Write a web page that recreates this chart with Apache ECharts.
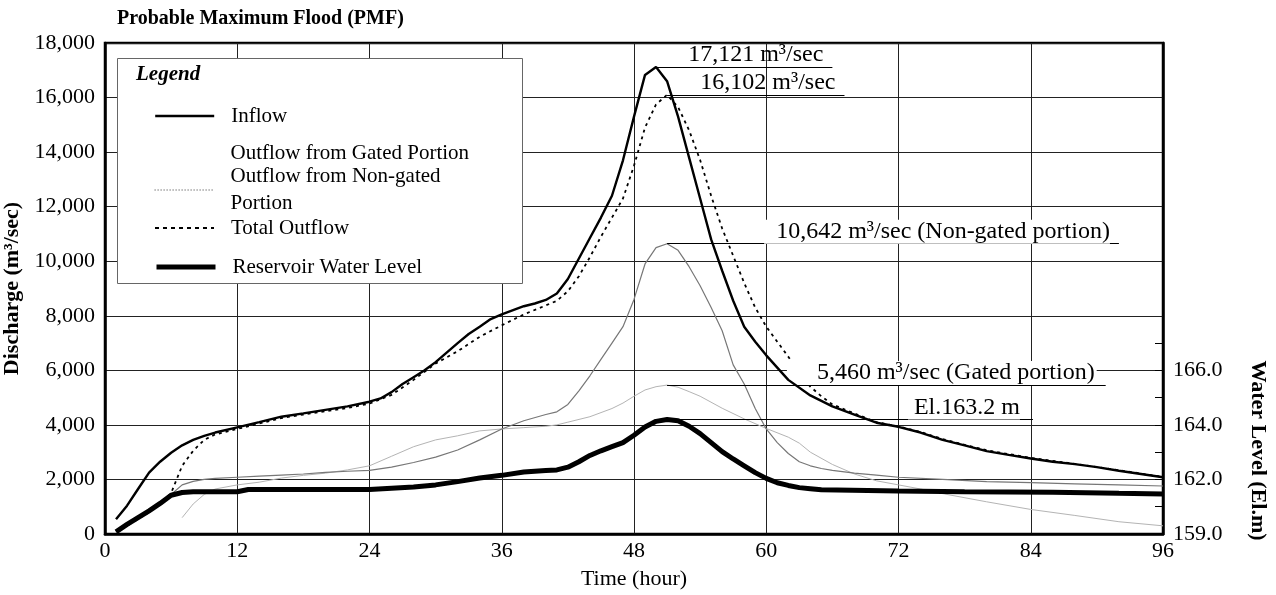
<!DOCTYPE html>
<html><head><meta charset="utf-8">
<script src="https://cdn.jsdelivr.net/npm/echarts@6/dist/echarts.min.js"></script>
<style>html,body{margin:0;padding:0;background:#fff}#c{width:1276px;height:595px}</style>
</head><body><div id="c"></div>
<script>
// ---- data (time in hours, discharge in m3/sec, level in El.m) ----
const inflowHours  = [1,2,3,4,5,6,7,8,9,10,12,14,16,18,20,22,24,25,26,27,28,29,30,31,32,33,34,35,36,38,39,40,41,42,43,44,45,46,47,48,49,50,51,52,53,54,55,56,57,58,59,60,62,64,66,68,70,72,74,76,78,80,82,84,86,88,90,92,94,96];
const inflowValues = [540,1040,1650,2250,2650,2980,3250,3450,3600,3720,3910,4100,4300,4420,4550,4680,4850,4970,5200,5500,5750,6000,6300,6650,7000,7330,7600,7880,8050,8350,8450,8580,8820,9350,10100,10850,11600,12400,13700,15300,16830,17121,16600,15300,13800,12300,10800,9650,8550,7600,7050,6550,5650,5080,4680,4380,4080,3930,3720,3450,3250,3040,2900,2770,2650,2560,2450,2320,2200,2080];

const totalHours  = [1,2,3,4,5,6,7,8,9,10,12,14,16,18,20,22,24,26,28,30,32,34,36,38,40,41,42,43,44,45,46,47,48,49,50,51,52,53,54,55,56,57,58,59,60,61,62,63,64,65,66,68,70,72,74,76,78,80,84,88,92,96];
const totalValues = [100,300,550,800,1100,1500,2500,3050,3450,3650,3850,4050,4250,4380,4500,4620,4780,5100,5650,6250,6700,7230,7650,8050,8380,8550,8900,9450,10150,10900,11600,12300,13500,14900,15750,16102,15650,14800,13710,12400,11200,10200,9200,8300,7600,7050,6500,5900,5400,5050,4750,4420,4100,3940,3740,3480,3270,3070,2790,2570,2340,2090];

const nonGatedHours  = [1,2,3,4,5,6,7,8,9,10,12,14,16,18,20,22,24,26,28,30,32,34,36,38,40,41,42,43,44,45,46,47,48,49,50,51,52,53,54,55,56,57,58,59,60,61,62,63,64,65,66,68,70,72,76,80,84,88,92,96];
const nonGatedValues = [85,350,630,880,1130,1450,1800,1930,2000,2040,2080,2120,2160,2200,2260,2300,2330,2450,2620,2820,3080,3450,3850,4150,4380,4480,4750,5250,5800,6400,7000,7600,8600,9900,10500,10642,10400,9800,9100,8300,7450,6200,5500,4600,3850,3350,2950,2650,2500,2400,2330,2230,2160,2080,2000,1920,1880,1840,1800,1760];

const gatedHours  = [7,8,9,10,12,14,16,18,20,22,24,26,28,30,32,34,36,38,40,41,42,44,46,47,48,49,50,51,52,53,54,56,58,60,62,63,64,66,68,70,72,74,76,80,84,88,92,96];
const gatedValues = [600,1100,1450,1650,1800,1900,2050,2150,2230,2350,2500,2850,3200,3450,3600,3780,3850,3900,3950,4000,4100,4300,4600,4800,5050,5280,5400,5460,5380,5220,5050,4610,4220,3870,3550,3330,3000,2550,2200,1950,1800,1650,1480,1180,900,680,450,300];

const levelHours  = [1,2,3,4,5,6,7,8,12,13,24,26,28,30,32,34,36,38,40,41,42,43,44,45,46,47,48,49,50,51,52,53,54,55,56,57,58,59,60,61,62,63,64,65,72,78,86,92,96];
const levelValues = [159.08,159.35,159.6,159.85,160.12,160.42,160.52,160.55,160.55,160.63,160.63,160.68,160.72,160.8,160.92,161.05,161.15,161.27,161.33,161.35,161.45,161.65,161.88,162.05,162.2,162.35,162.62,162.92,163.13,163.2,163.15,162.95,162.68,162.35,162.02,161.75,161.5,161.25,161.04,160.88,160.78,160.7,160.66,160.62,160.58,160.55,160.53,160.49,160.47];

const seriesNames = ['Inflow','Outflow from Gated Portion','Outflow from Non-gated Portion','Total Outflow','Reservoir Water Level'];
const legendTexts = ['Inflow','Outflow from Gated Portion','Outflow from Non-gated\nPortion','Total Outflow','Reservoir Water Level'];

const xTicks = [0,12,24,36,48,60,72,84,96];
const rightTickValues  = [159,160,161,162,163,164,165,166];
const rightLabelValues = [159,161,163,165];
const rightTickLabels  = ['159.0','162.0','164.0','166.0'];

const annotationTexts = ['17,121 m³/sec','16,102 m³/sec','10,642 m³/sec (Non-gated portion)','5,460 m³/sec (Gated portion)','El.163.2 m'];
const annotationStartHours = [50, 51, 51, 51, 51];
const annotationEndHours   = [66, 67.1, 92, 90.8, 84.2];

// ---- rendering ----
const FONT = 'Liberation Serif';
const zip = (h, v) => h.map((x, i) => [x, v[i]]);
const peakOf = v => Math.max.apply(null, v);

function annot(i, peak, opts) {
  return {
    symbol: 'none', silent: true, animation: false,
    lineStyle: { color: '#000', width: 1, type: 'solid' },
    emphasis: { disabled: true },
    label: Object.assign({
      show: true, position: 'insideEndTop', formatter: annotationTexts[i],
      fontFamily: FONT, fontSize: 24, color: '#000', distance: [9, 0]
    }, opts || {}),
    data: [[{ coord: [annotationStartHours[i], peak] }, { coord: [annotationEndHours[i], peak] }]]
  };
}

const chart = echarts.init(document.getElementById('c'), null, { renderer: 'canvas' });

const legendTops = [116, 153, 190, 228, 267];
const legendLineStyles = [
  { color: '#000', width: 2.4, type: 'solid' },
  { color: '#fff', width: 1, type: 'solid', opacity: 0 },
  { color: '#333', width: 1.2, type: [1, 2] },
  { color: '#000', width: 2, type: [4, 4] },
  { color: '#000', width: 5, type: 'solid' }
];
const legends = seriesNames.map((n, i) => {
  const lines = legendTexts[i].split('\n').length;
  const lh = lines > 1 ? 27 : 24;
  return {
    left: 154, top: legendTops[i] - (lh * lines) / 2, padding: 0,
    itemWidth: 59, itemHeight: 14, selectedMode: false, z: 10,
    formatter: () => legendTexts[i],
    itemStyle: { opacity: 0 },
    lineStyle: legendLineStyles[i],
    textStyle: { fontFamily: FONT, fontSize: 21, color: '#000', lineHeight: lh, padding: [0, 0, 0, 12] },
    data: [{ name: n }]
  };
});

const option = {
  animation: false,
  backgroundColor: '#fff',
  title: { text: 'Probable Maximum Flood (PMF)', left: 117, top: 9, padding: 0,
    textStyle: { fontFamily: FONT, fontSize: 20, fontWeight: 'bold', color: '#000' } },
  legend: legends,
  graphic: [
    { type: 'rect', z: 3, shape: { x: 117.5, y: 58.5, width: 405, height: 225 },
      style: { fill: '#fff', stroke: '#666', lineWidth: 1 } },
    { type: 'text', z: 11, x: 136, y: 64,
      style: { text: 'Legend', font: 'italic bold 21px "Liberation Serif"', fill: '#000' } }
  ],
  grid: { left: 105, right: 113, top: 43, bottom: 61, containLabel: false, outerBoundsMode: 'none',
    show: true, borderColor: '#000', borderWidth: 2.5, backgroundColor: 'transparent' },
  xAxis: {
    type: 'value', min: 0, max: 96, interval: 12,
    name: 'Time (hour)', nameLocation: 'middle', nameGap: 34,
    nameTextStyle: { fontFamily: FONT, fontSize: 22, color: '#000' },
    axisLine: { show: true, lineStyle: { color: '#000', width: 2.5 } },
    axisTick: { show: false },
    splitLine: { show: true, lineStyle: { color: '#222', width: 1 } },
    axisLabel: { fontFamily: FONT, fontSize: 22, color: '#000', margin: 6,
      formatter: v => xTicks.indexOf(v) >= 0 ? String(v) : '' }
  },
  yAxis: [
    {
      type: 'value', min: 0, max: 18000, interval: 2000, position: 'left',
      name: 'Discharge (m³/sec)', nameLocation: 'middle', nameGap: 68,
      nameTextStyle: { fontFamily: FONT, fontSize: 22, fontWeight: 'bold', color: '#000', padding: [16, 0, 0, 0] },
      axisLine: { show: true, lineStyle: { color: '#000', width: 2.5 } },
      axisTick: { show: false },
      splitLine: { show: true, lineStyle: { color: '#222', width: 1 } },
      axisLabel: { fontFamily: FONT, fontSize: 22, color: '#000', margin: 10,
        formatter: v => v.toLocaleString('en-US') }
    },
    {
      type: 'value', min: 159, max: 177, interval: 1, position: 'right',
      name: 'Water Level (El.m)', nameLocation: 'middle', nameGap: 84, nameRotate: -90,
      nameTextStyle: { fontFamily: FONT, fontSize: 22, fontWeight: 'bold', color: '#000', padding: [0, 0, 0, 324] },
      axisLine: { show: true, lineStyle: { color: '#000', width: 2.5 } },
      axisTick: { show: true, inside: true, length: 8, customValues: rightTickValues, lineStyle: { color: '#000', width: 1 } },
      splitLine: { show: false },
      axisLabel: { fontFamily: FONT, fontSize: 22, color: '#000', margin: 10, customValues: rightLabelValues,
        formatter: v => { const k = rightLabelValues.indexOf(v); return k >= 0 ? rightTickLabels[k] : ''; } }
    }
  ],
  series: [
    { name: seriesNames[1], type: 'line', yAxisIndex: 0, symbol: 'none', z: 2,
      lineStyle: { color: '#b4b4b4', width: 1 }, itemStyle: { color: '#b4b4b4' },
      data: zip(gatedHours, gatedValues),
      markLine: annot(3, peakOf(gatedValues), { backgroundColor: '#fff', padding: [0, 2, 0, 30] }) },
    { name: seriesNames[2], type: 'line', yAxisIndex: 0, symbol: 'none', z: 3,
      lineStyle: { color: '#777', width: 1.2 }, itemStyle: { color: '#777' },
      data: zip(nonGatedHours, nonGatedValues),
      markLine: annot(2, peakOf(nonGatedValues), { backgroundColor: '#fff', padding: [0, 0, 0, 12] }) },
    { name: seriesNames[3], type: 'line', yAxisIndex: 0, symbol: 'none', z: 4,
      lineStyle: { color: '#000', width: 1.8, type: [3, 4] }, itemStyle: { color: '#000' },
      data: zip(totalHours, totalValues),
      markLine: annot(1, peakOf(totalValues)) },
    { name: seriesNames[0], type: 'line', yAxisIndex: 0, symbol: 'none', z: 5,
      lineStyle: { color: '#000', width: 2.4 }, itemStyle: { color: '#000' },
      data: zip(inflowHours, inflowValues),
      markLine: annot(0, peakOf(inflowValues)) },
    { name: seriesNames[4], type: 'line', yAxisIndex: 1, symbol: 'none', z: 6,
      lineStyle: { color: '#000', width: 5 }, itemStyle: { color: '#000' },
      data: zip(levelHours, levelValues),
      markLine: annot(4, peakOf(levelValues), { backgroundColor: '#fff', padding: [0, 0, 0, 6], distance: [13, 0] }) }
  ]
};
chart.setOption(option);
</script>
</body></html>
